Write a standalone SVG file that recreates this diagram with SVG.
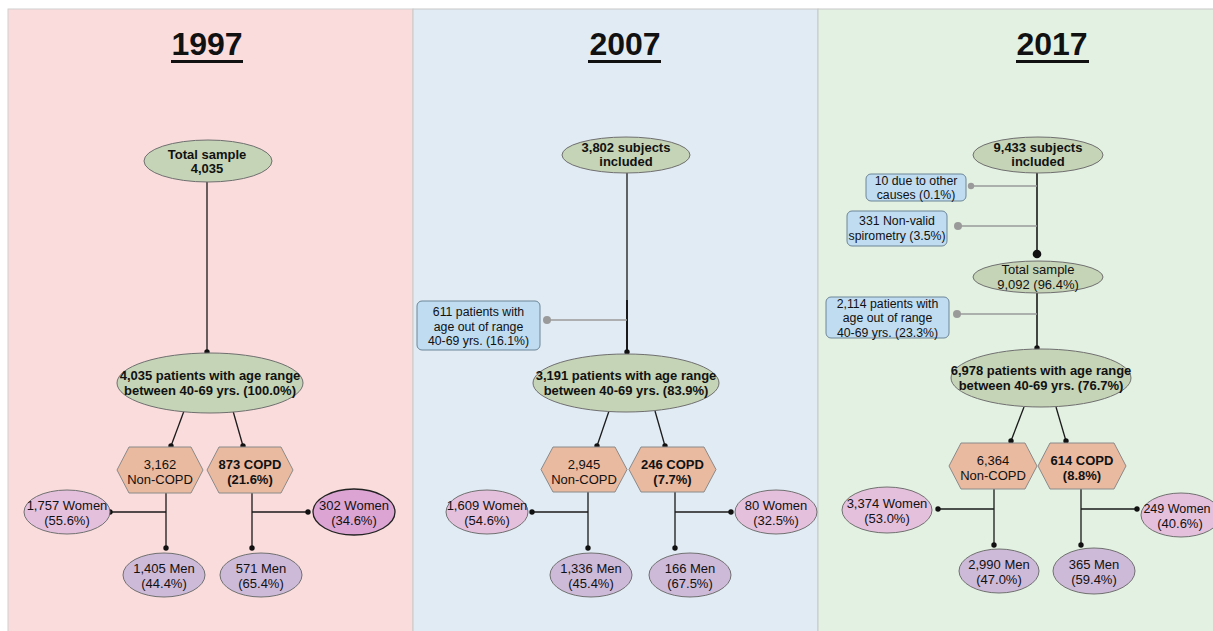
<svg xmlns="http://www.w3.org/2000/svg" width="1213" height="631" viewBox="0 0 1213 631">
<style>
text{font-family:"Liberation Sans",Arial,sans-serif;fill:#111;text-anchor:middle;font-size:13px}
.b{font-weight:bold}
.title{font-size:32px;font-weight:bold}
.box text{font-size:12.3px}
.green{fill:#c5d4b6;stroke:#6f6f6f;stroke-width:1}
.hex{fill:#e9b9a0;stroke:#8a8a8a;stroke-width:1}
.women{fill:#e4c0dc;stroke:#707070;stroke-width:1}
.women2{fill:#dca4d2;stroke:#222;stroke-width:1.3}
.men{fill:#cdb9d8;stroke:#707070;stroke-width:1}
.boxr{fill:#c0dcf0;stroke:#6c8598;stroke-width:1}
.ln{stroke:#1a1a1a;stroke-width:1.3;fill:none}
.lnd{stroke:#1a1a1a;stroke-width:1.3;fill:none;marker-end:url(#dot)}
.gl{stroke:#9a9a9a;stroke-width:1.5;fill:none;marker-end:url(#gdot)}
</style>
<defs>
<marker id="dot" viewBox="-4 -4 8 8" markerWidth="8" markerHeight="8" markerUnits="userSpaceOnUse" refX="0" refY="0"><circle r="2.7" fill="#111"/></marker>
<marker id="bdot" viewBox="-5 -5 10 10" markerWidth="10" markerHeight="10" markerUnits="userSpaceOnUse" refX="0" refY="0"><circle r="4.3" fill="#111"/></marker>
<marker id="gdot" viewBox="-5 -5 10 10" markerWidth="10" markerHeight="10" markerUnits="userSpaceOnUse" refX="0" refY="0"><circle r="4" fill="#9a9a9a"/></marker>
<marker id="gdots" viewBox="-5 -5 10 10" markerWidth="10" markerHeight="10" markerUnits="userSpaceOnUse" refX="0" refY="0"><circle r="3.2" fill="#9a9a9a"/></marker>
</defs>
<rect width="1213" height="631" fill="#fff"/>
<g id="panels">
<rect x="8" y="9" width="405" height="623" fill="#fadcdc" stroke="#d2cfcf" stroke-width="1"/>
<rect x="413" y="9" width="405" height="623" fill="#e1ebf4" stroke="#c8c8c8" stroke-width="1"/>
<rect x="818" y="9" width="400" height="623" fill="#e3f1e2" stroke="#c8c8c8" stroke-width="1"/>
</g>
<g id="titles">
<text class="title" x="207" y="55">1997</text><rect x="171" y="60" width="72" height="3" fill="#111"/>
<text class="title" x="625" y="55">2007</text><rect x="588" y="60" width="73" height="3" fill="#111"/>
<text class="title" x="1052" y="55">2017</text><rect x="1016" y="60" width="73" height="3" fill="#111"/>
</g>
<g id="connectors">
<line class="lnd" x1="207" y1="182" x2="207" y2="352"/>
<line class="lnd" x1="184" y1="411" x2="171" y2="446"/>
<line class="lnd" x1="233" y1="411" x2="243" y2="446"/>
<line class="lnd" x1="166" y1="493" x2="166" y2="548"/>
<line class="lnd" x1="166" y1="512" x2="110" y2="512"/>
<line class="lnd" x1="252" y1="493" x2="252" y2="548"/>
<line class="lnd" x1="252" y1="512" x2="308" y2="512"/>
<line class="ln" x1="627" y1="173" x2="627" y2="300"/>
<line class="lnd" x1="627" y1="300" x2="627" y2="352" style="stroke-width:2"/>
<line class="gl" x1="627" y1="320" x2="547" y2="320"/>
<line class="lnd" x1="609" y1="411" x2="597" y2="446"/>
<line class="lnd" x1="655" y1="411" x2="665" y2="446"/>
<line class="lnd" x1="588" y1="492" x2="588" y2="548"/>
<line class="lnd" x1="588" y1="512" x2="532" y2="512"/>
<line class="lnd" x1="675" y1="492" x2="675" y2="548"/>
<line class="lnd" x1="675" y1="512" x2="731" y2="512"/>
<line class="ln" x1="1037" y1="173" x2="1037" y2="254" style="stroke-width:1.6;marker-end:url(#bdot)"/>
<line class="gl" x1="1037" y1="186" x2="971" y2="186" style="marker-end:url(#gdots)"/>
<line class="gl" x1="1037" y1="226" x2="958" y2="226"/>
<line class="lnd" x1="1037" y1="293" x2="1037" y2="348" style="stroke-width:1.6"/>
<line class="gl" x1="1037" y1="314" x2="957" y2="314"/>
<line class="lnd" x1="1024" y1="407" x2="1011" y2="441"/>
<line class="lnd" x1="1056" y1="407" x2="1066" y2="441"/>
<line class="lnd" x1="994" y1="489" x2="994" y2="545"/>
<line class="lnd" x1="994" y1="509" x2="938" y2="509"/>
<line class="lnd" x1="1081" y1="489" x2="1081" y2="545"/>
<line class="lnd" x1="1081" y1="509" x2="1137" y2="509"/>
</g>
<!-- 1997 -->
<g id="p1-total"><ellipse class="green" cx="208" cy="161" rx="64" ry="21"/><text class="b" x="207" y="159">Total sample</text><text class="b" x="207" y="173">4,035</text></g>
<g id="p1-age"><ellipse class="green" cx="210" cy="383" rx="93" ry="30"/><text class="b" x="210" y="380">4,035 patients with age range</text><text class="b" x="210" y="395">between 40-69 yrs. (100.0%)</text></g>
<g id="p1-noncopd"><polygon class="hex" points="129,447 191,447 203,470 191,493 129,493 117,470"/><text x="160" y="469">3,162</text><text x="160" y="484">Non-COPD</text></g>
<g id="p1-copd"><polygon class="hex" points="219,447 281,447 293,470 281,493 219,493 207,470"/><text class="b" x="250" y="469">873 COPD</text><text class="b" x="250" y="484">(21.6%)</text></g>
<g id="p1-women-nc"><ellipse class="women" cx="67" cy="512" rx="43" ry="22"/><text x="67" y="510">1,757 Women</text><text x="67" y="525">(55.6%)</text></g>
<g id="p1-men-nc"><ellipse class="men" cx="164" cy="575" rx="41" ry="22"/><text x="164" y="573">1,405 Men</text><text x="164" y="588">(44.4%)</text></g>
<g id="p1-women-c"><ellipse class="women2" cx="354" cy="512" rx="41" ry="23"/><text x="354" y="510">302 Women</text><text x="354" y="525">(34.6%)</text></g>
<g id="p1-men-c"><ellipse class="men" cx="261" cy="575" rx="41" ry="22"/><text x="261" y="573">571 Men</text><text x="261" y="588">(65.4%)</text></g>
<!-- 2007 -->
<g id="p2-subj"><ellipse class="green" cx="626" cy="155" rx="64" ry="18"/><text class="b" x="626" y="152">3,802 subjects</text><text class="b" x="626" y="166">included</text></g>
<g id="p2-out" class="box"><rect class="boxr" x="417" y="301" width="123" height="49" rx="5"/><text x="478.5" y="316">611 patients with</text><text x="478.5" y="330.5">age out of range</text><text x="478.5" y="345">40-69 yrs. (16.1%)</text></g>
<g id="p2-age"><ellipse class="green" cx="626" cy="383" rx="93" ry="29"/><text class="b" x="626" y="380">3,191 patients with age range</text><text class="b" x="626" y="395">between 40-69 yrs. (83.9%)</text></g>
<g id="p2-noncopd"><polygon class="hex" points="553,447 615,447 627,469.5 615,492 553,492 541,469.5"/><text x="584" y="468.5">2,945</text><text x="584" y="483.5">Non-COPD</text></g>
<g id="p2-copd"><polygon class="hex" points="641,447 704,447 716,469.5 704,492 641,492 629,469.5"/><text class="b" x="672.5" y="468.5">246 COPD</text><text class="b" x="672.5" y="483.5">(7.7%)</text></g>
<g id="p2-women-nc"><ellipse class="women" cx="487" cy="512" rx="41" ry="22"/><text x="487" y="510">1,609 Women</text><text x="487" y="525">(54.6%)</text></g>
<g id="p2-men-nc"><ellipse class="men" cx="591" cy="575" rx="41" ry="22"/><text x="591" y="573">1,336 Men</text><text x="591" y="588">(45.4%)</text></g>
<g id="p2-women-c"><ellipse class="women" cx="776" cy="512" rx="41" ry="22"/><text x="776" y="510">80 Women</text><text x="776" y="525">(32.5%)</text></g>
<g id="p2-men-c"><ellipse class="men" cx="690" cy="575" rx="41" ry="22"/><text x="690" y="573">166 Men</text><text x="690" y="588">(67.5%)</text></g>
<!-- 2017 -->
<g id="p3-subj"><ellipse class="green" cx="1038" cy="155" rx="65" ry="18"/><text class="b" x="1038" y="152">9,433 subjects</text><text class="b" x="1038" y="166">included</text></g>
<g id="p3-other" class="box"><rect class="boxr" x="866" y="174" width="100" height="27" rx="5"/><text x="916" y="185">10 due to other</text><text x="916" y="198.5">causes (0.1%)</text></g>
<g id="p3-spiro" class="box"><rect class="boxr" x="847" y="211" width="100" height="35" rx="5"/><text x="897" y="224.5">331 Non-valid</text><text x="897" y="240">spirometry (3.5%)</text></g>
<g id="p3-total"><ellipse class="green" cx="1038" cy="277" rx="65" ry="16"/><text x="1038" y="274">Total sample</text><text x="1038" y="288.5">9,092 (96.4%)</text></g>
<g id="p3-out" class="box"><rect class="boxr" x="826" y="297" width="123" height="41" rx="5"/><text x="887.5" y="307.5">2,114 patients with</text><text x="887.5" y="322">age out of range</text><text x="887.5" y="336.5">40-69 yrs. (23.3%)</text></g>
<g id="p3-age"><ellipse class="green" cx="1041" cy="378" rx="90" ry="29"/><text class="b" x="1041" y="375">6,978 patients with age range</text><text class="b" x="1041" y="390">between 40-69 yrs. (76.7%)</text></g>
<g id="p3-noncopd"><polygon class="hex" points="961,443 1025,443 1037,466 1025,489 961,489 949,466"/><text x="993" y="465">6,364</text><text x="993" y="480">Non-COPD</text></g>
<g id="p3-copd"><polygon class="hex" points="1050,443 1114,443 1126,466 1114,489 1050,489 1038,466"/><text class="b" x="1082" y="465">614 COPD</text><text class="b" x="1082" y="480">(8.8%)</text></g>
<g id="p3-women-nc"><ellipse class="women" cx="887" cy="510" rx="45" ry="23"/><text x="887" y="508">3,374 Women</text><text x="887" y="523">(53.0%)</text></g>
<g id="p3-men-nc"><ellipse class="men" cx="999" cy="571" rx="40" ry="22"/><text x="999" y="569">2,990 Men</text><text x="999" y="584">(47.0%)</text></g>
<g id="p3-women-c"><ellipse class="women" cx="1181" cy="515" rx="40" ry="22"/><text x="1177" y="513" style="font-size:12.5px">249 Women</text><text x="1180" y="528">(40.6%)</text></g>
<g id="p3-men-c"><ellipse class="men" cx="1094" cy="571" rx="41" ry="23"/><text x="1094" y="569">365 Men</text><text x="1094" y="584">(59.4%)</text></g>
</svg>
